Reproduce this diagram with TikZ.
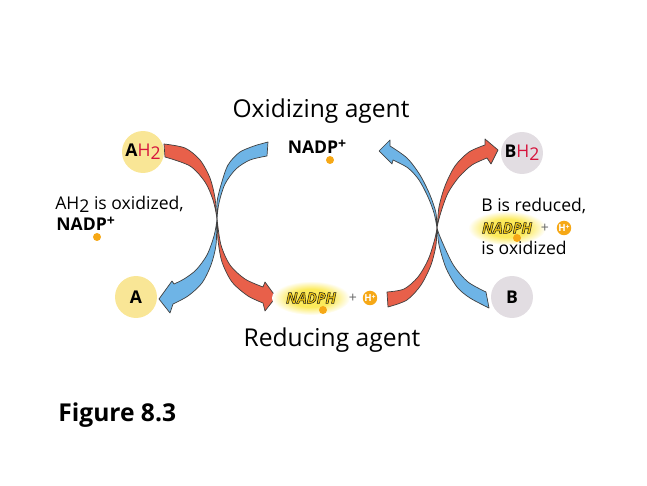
\documentclass[tikz,border=0pt]{standalone}
\usepackage{fontspec}
\setmainfont{Open Sans}
\usetikzlibrary{positioning}
\definecolor{redoxRed}{RGB}{232,96,74}
\definecolor{redoxBlue}{RGB}{110,180,230}
\definecolor{redoxYellow}{RGB}{249,230,150}
\definecolor{redoxGray}{RGB}{226,221,226}
\definecolor{redoxOrange}{RGB}{246,168,22}
\definecolor{redoxH}{RGB}{214,20,60}
\definecolor{redoxGold}{RGB}{240,198,20}
\definecolor{redoxGlow}{RGB}{252,234,90}
\pgfdeclareradialshading{nadphglow}{\pgfpoint{0bp}{0bp}}{color(0bp)=(redoxGlow); color(13bp)=(redoxGlow); color(25bp)=(white); color(50bp)=(white)}

% outlined letters (fill and stroke)
\newcommand{\outlined}[1]{\special{pdf:literal direct 2 Tr 0.3 w 0.1 0.1 0.1 RG}#1\special{pdf:literal direct 0 Tr}}

% glowing NADPH label: #1 name, #2 position
\newcommand{\nadphmark}[2]{%
  \shade[shading=nadphglow] (#2) ellipse [x radius=0.78cm,y radius=0.34cm];
  \node[nadphfont,text=redoxGold] (#1) at (#2) {\outlined{NADPH}};
}

\begin{document}
\begin{tikzpicture}[x=0.02cm,y=-0.02cm,
  agent/.style={font=\fontsize{14}{16}\selectfont},
  note/.style={font=\fontsize{10}{12}\selectfont,anchor=west,inner sep=0pt},
  molecule/.style={circle,minimum size=0.84cm,inner sep=0pt,font=\fontsize{10}{12}\selectfont},
  oxform/.style={molecule,fill=redoxYellow},
  redform/.style={molecule,fill=redoxGray},
  electron/.style={circle,fill=redoxOrange,minimum size=0.16cm,inner sep=0pt},
  proton/.style={circle,fill=redoxOrange,minimum size=0.29cm,inner sep=0pt,text=white,font=\bfseries\fontsize{5.5}{6}\selectfont},
  nadphfont/.style={font=\bfseries\itshape\fontsize{8.5}{10}\selectfont,inner sep=0pt},
  arrowshape/.style={draw=black!75,line width=0.4pt,line join=round}
]
  \useasboundingbox (0,0) rectangle (647,486);

  % titles
  \node[agent] (oxagent) at (321,111) {Oxidizing agent};
  \node[agent] (redagent) at (332,340) {Reducing agent};
  \node[font=\bfseries\fontsize{14}{16}\selectfont,anchor=west,inner sep=0pt] (figlabel) at (58,415) {Figure 8.3};

  % left crossing
  \filldraw[arrowshape,fill=redoxRed]
    plot[smooth] coordinates {(164,144) (185,148) (200,160) (210,178) (215,198) (217,219) (221,245) (230,265) (245,279) (263,287)}
    -- (265,282) -- (276,297) -- (265,311) -- (263,303)
    -- plot[smooth] coordinates {(263,303) (248,296) (232,282) (222,262) (218,240) (217,219) (213,200) (205,182) (190,166) (165,157)}
    -- cycle;
  \filldraw[arrowshape,fill=redoxBlue]
    plot[smooth] coordinates {(257,145) (240,152) (228,165) (221,185) (217,202) (217,219) (214,236) (207,255) (196,270) (184,279) (174,284)}
    -- (172,281) -- (159,299) -- (170,313) -- (173,304)
    -- plot[smooth] coordinates {(173,304) (188,296) (202,283) (211,265) (216,245) (217,219) (219,203) (225,184) (236,169) (250,160) (267,156)}
    -- (268,142) -- cycle;

  % right crossing
  \filldraw[arrowshape,fill=redoxBlue]
    plot[smooth] coordinates {(486,292) (468,282) (454,266) (444,246) (437,228) (436,213) (430,195) (420,175) (407,158) (390,146)}
    -- (390,140) -- (379,151) -- (392,164) -- (393,160)
    -- plot[smooth] coordinates {(393,160) (408,168) (419,180) (428,197) (434,213) (437,228) (439,245) (446,268) (457,287) (470,298) (489,308)}
    -- cycle;
  \filldraw[arrowshape,fill=redoxRed]
    plot[smooth] coordinates {(388,307) (407,300) (421,285) (431,265) (436,245) (437,228) (441,212) (448,193) (459,177) (472,165) (487,158)}
    -- (491,164) -- (498,150) -- (485,139) -- (485,145)
    -- plot[smooth] coordinates {(485,145) (469,152) (455,166) (445,186) (439,207) (437,228) (434,242) (428,260) (418,277) (404,289) (387,292)}
    -- cycle;

  % molecules
  \node[oxform] (ah2) at (143,152) {\textbf{A}\textcolor{redoxH}{H\raisebox{-0.35ex}{2}}};
  \node[oxform] (a) at (136,297) {\textbf{A}};
  \node[redform] (bh2) at (522,153) {\textbf{B}\textcolor{redoxH}{H\raisebox{-0.35ex}{2}}};
  \node[redform] (b) at (512,297) {\textbf{B}};

  % NADP+ at the top
  \node[font=\bfseries\fontsize{10}{12}\selectfont] (nadp) at (317,147) {NADP\raisebox{0.5ex}{\fontsize{8}{8}\selectfont+}};
  \node[electron] (nadpe) at (330,160) {};

  % NADPH + H+ at the bottom
  \nadphmark{nadph}{311,298}
  \node[electron] (nadphe) at (323,310) {};
  \node[font=\fontsize{8}{8}\selectfont,text=black!60] (plus) at (353,298) {+};
  \node[proton] (hplus) at (370,298) {H\raisebox{0.4ex}{\fontsize{4}{4}\selectfont+}};

  % left note
  \node[note] (ah2note) at (55,204) {AH\raisebox{-0.3ex}{2} is oxidized,};
  \node[note,font=\bfseries\fontsize{10}{12}\selectfont] (nadpnote) at (56,224) {NADP\raisebox{0.5ex}{\fontsize{8}{8}\selectfont+}};
  \node[electron] (nadpnotee) at (97,237) {};

  % right note
  \node[note] (bnote) at (481,206) {B is reduced,};
  \nadphmark{nadphnote}{507,228}
  \node[electron] (nadphnotee) at (517,238) {};
  \node[font=\fontsize{8}{8}\selectfont,text=black!60] (plusnote) at (545,228) {+};
  \node[proton] (hplusnote) at (564,228) {H\raisebox{0.4ex}{\fontsize{4}{4}\selectfont+}};
  \node[note] (oxnote) at (481,248) {is oxidized};
\end{tikzpicture}
\end{document}
